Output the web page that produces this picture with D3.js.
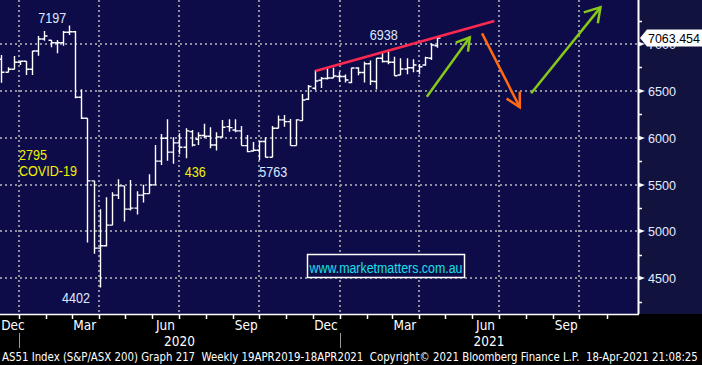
<!DOCTYPE html>
<meta charset="utf-8">
<style>
body { margin: 0; background: #000; }
svg { display: block; }
.grid line { stroke: #8e8e9c; stroke-width: 2; stroke-dasharray: 2,3; }
.bar { stroke: #fff; stroke-width: 1.4; fill: none; }
.lbl { font-family: "Liberation Sans", Arial, sans-serif; font-size: 14px; }
.ax { font-family: "Liberation Sans", Arial, sans-serif; font-size: 13px; fill: #e4ecff; }
.narrow { font-family: "Liberation Sans Narrow", "DejaVu Sans Condensed", sans-serif; fill: #fff; white-space: pre; }
</style>
<svg width="702" height="365"></svg>
<script src="https://d3js.org/d3.v7.min.js"></script>
<script>

// weekly AS51 bars, week ending Friday, first week 6 Dec 2019
var firstWeek = new Date(2019, 11, 6);
var open  = [6837,6698,6730,6805,6816,6730,6925,7053,7040,7014,7014,7125,7131,6432,6208,5540,
             4822,4847,5067,5387,5486,5238,5249,5387,5404,5497,5750,5995,5846,5945,5899,6065,
             5984,6023,6016,5923,6008,6118,6083,6073,5916,5859,5867,5959,5792,6101,6190,6172,
             5916,6182,6410,6528,6613,6632,6638,6654,6654,6590,6744,6696,6789,6600,6848,6813,
             6805,6670,6733,6747,6712,6776,6848,6982];
var high  = [6883,6752,6872,6822,6816,6925,7085,7139,7043,7043,7139,7197,7139,6517,6208,5540,
             5238,5366,5419,5558,5486,5550,5430,5497,5611,5923,6040,6197,6005,6048,6101,6083,
             6059,6150,6112,6059,6190,6197,6197,6126,6030,5955,5969,6005,6126,6236,6243,6200,
             6197,6467,6563,6723,6648,6750,6747,6705,6675,6747,6753,6811,6824,6851,6904,6938,
             6865,6848,6848,6837,6787,6865,7007,7067];
var low   = [6587,6698,6730,6776,6670,6670,6875,7035,6965,6901,6982,7096,6420,6200,4882,4761,
             4402,4840,5067,5345,5106,5223,5180,5308,5404,5497,5710,5753,5721,5824,5782,5905,
             5923,5995,5888,5863,6001,6065,6059,5916,5846,5852,5763,5792,5792,6101,6118,5916,
             5916,6182,6403,6510,6531,6622,6638,6595,6590,6581,6666,6590,6563,6515,6803,6784,
             6662,6670,6677,6698,6677,6769,6829,6961];
var close = [6698,6730,6805,6816,6730,6925,7053,7085,7014,7014,7125,7131,6432,6208,5540,4822,
             4847,5067,5387,5486,5238,5249,5387,5404,5497,5750,5995,5846,5945,5899,6073,5923,
             6023,6016,5923,6008,6112,6108,6073,5916,5852,5867,5959,5792,6101,6190,6172,5916,
             6190,6403,6547,6606,6632,6638,6659,6654,6616,6744,6696,6789,6602,6848,6813,6805,
             6662,6733,6747,6776,6758,6854,6989,7063.454];

var yTicks = [4500, 5000, 5500, 6000, 6500, 7000];
var lastPrice = 7063.454;

// text callouts: [date, value, text, colour]
var callouts = [
  [new Date(2020, 0, 23), 7219, "7197", "#dde8ff"],
  [new Date(2020, 1, 19), 4234, "4402", "#dde8ff"],
  [new Date(2020, 6, 8),  5577, "436",  "#f2f200"],
  [new Date(2020, 9, 1),  5577, "5763", "#dde8ff"],
  [new Date(2021, 1, 4),  7043, "6938", "#dde8ff"]
];
var covidText = ["2795", "COVID-19"];

// hand drawn trend line and arrows (date, value)
var trendLine = [[new Date(2020, 11, 4), 6712], [new Date(2021, 5, 26), 7245]];
var arrows = [
  {c: "#86c817", line: [[new Date(2021, 3, 10), 6438], [new Date(2021, 4, 29), 7071]],
   head: [[new Date(2021, 4, 13), 7014], [new Date(2021, 4, 29), 7071], [new Date(2021, 4, 27), 6918]]},
  {c: "#ff6a12", line: [[new Date(2021, 5, 12), 7114], [new Date(2021, 6, 25), 6325]],
   head: [[new Date(2021, 6, 10), 6417], [new Date(2021, 6, 25), 6325], [new Date(2021, 6, 25), 6492]]},
  {c: "#86c817", line: [[new Date(2021, 7, 7), 6474], [new Date(2021, 9, 25), 7391]],
   head: [[new Date(2021, 9, 6), 7338], [new Date(2021, 9, 25), 7391], [new Date(2021, 9, 22), 7221]]}
];

var months = ["Dec", "Mar", "Jun", "Sep", "Dec", "Mar", "Jun", "Sep"];
var monthDates = [new Date(2019, 11, 16), new Date(2020, 2, 16), new Date(2020, 5, 16), new Date(2020, 8, 16),
                  new Date(2020, 11, 16), new Date(2021, 2, 16), new Date(2021, 5, 16), new Date(2021, 8, 16)];
var years = ["2020", "2021"];
var footer = "AS51 Index (S&P/ASX 200) Graph 217  Weekly 19APR2019-18APR2021  Copyright\u00a9 2021 Bloomberg Finance L.P.  18-Apr-2021 21:08:25";

var svg = d3.select("svg"),
    W = 638, H = 314;

var x = d3.scaleTime()
    .domain([new Date(2020, 0, 1), new Date(2021, 0, 1)])
    .range([19, 19 + 366 * 0.877]);
var y = d3.scaleLinear().domain([4500, 7000]).range([278.3, 44]);

var weeks = close.map(function(c, i) { return d3.timeWeek.offset(firstWeek, i); });
var bx = function(i) { return Math.round(x(d3.timeDay.offset(weeks[i], 6))) + 0.5; };

svg.append("rect").attr("width", 702).attr("height", 365).attr("fill", "#000");
svg.append("rect").attr("width", W).attr("height", H).attr("fill", "#0e0c48");
svg.append("rect").attr("x", W).attr("width", 702 - W).attr("height", H).attr("fill", "#12123f");

svg.append("clipPath").attr("id", "plot").append("rect").attr("width", W).attr("height", H);
var plot = svg.append("g").attr("clip-path", "url(#plot)");

// grid
var grid = plot.append("g").attr("class", "grid");
grid.selectAll(".h").data(yTicks).enter().append("line")
    .attr("x1", 0).attr("x2", W)
    .attr("y1", function(d) { return Math.round(y(d)); })
    .attr("y2", function(d) { return Math.round(y(d)); });
grid.selectAll(".v").data(d3.timeMonth.every(3).range(new Date(2020, 0, 1), new Date(2021, 11, 1))).enter().append("line")
    .attr("y1", 0).attr("y2", H)
    .attr("x1", function(d) { return Math.round(x(d)); })
    .attr("x2", function(d) { return Math.round(x(d)); });

// website box
var wb = plot.append("g");
wb.append("rect").attr("x", 307.5).attr("y", 254.5).attr("width", 157).attr("height", 23)
    .attr("fill", "#0e0c48").attr("stroke", "#fff").attr("stroke-width", 1.5);
wb.append("text").attr("x", 386).attr("y", 273).attr("text-anchor", "middle")
    .attr("class", "lbl").attr("font-size", 13.5).attr("fill", "#18e0e8")
    .attr("textLength", 153).attr("lengthAdjust", "spacingAndGlyphs")
    .text("www.marketmatters.com.au");

// OHLC bars
var bars = plot.append("g").attr("class", "bar");
close.forEach(function(c, i) {
  var cx = bx(i);
  bars.append("path").attr("d",
    "M" + cx + "," + y(high[i]) + "V" + y(low[i]) +
    "M" + (cx - 3) + "," + y(open[i]) + "H" + cx +
    "M" + cx + "," + y(c) + "H" + (cx + 3));
});

// trend line & arrows
var ln = d3.line().x(function(d) { return x(d[0]); }).y(function(d) { return y(d[1]); });
plot.append("path").attr("d", ln(trendLine)).attr("stroke", "#ff2850")
    .attr("stroke-width", 2.5).attr("fill", "none");
arrows.forEach(function(a) {
  plot.append("path").attr("d", ln(a.line)).attr("stroke", a.c).attr("stroke-width", 2.5).attr("fill", "none");
  plot.append("path").attr("d", ln(a.head)).attr("stroke", a.c).attr("stroke-width", 2.5)
      .attr("fill", "none").attr("stroke-linejoin", "miter");
});

// callouts
callouts.forEach(function(c) {
  plot.append("text").attr("class", "lbl").attr("x", x(c[0])).attr("y", y(c[1]))
      .attr("fill", c[3]).attr("textLength", c[2].length * 7)
      .attr("lengthAdjust", "spacingAndGlyphs").text(c[2]);
});
plot.append("text").attr("class", "lbl").attr("x", 19).attr("y", 159.5).attr("fill", "#f2f200")
    .attr("textLength", 28).attr("lengthAdjust", "spacingAndGlyphs").text(covidText[0]);
plot.append("text").attr("class", "lbl").attr("x", 19).attr("y", 175.5).attr("fill", "#f2f200")
    .attr("textLength", 58).attr("lengthAdjust", "spacingAndGlyphs").text(covidText[1]);

// right axis
var ra = svg.append("g");
ra.append("line").attr("x1", W + 0.5).attr("x2", W + 0.5).attr("y1", 0).attr("y2", H)
    .attr("stroke", "#fff").attr("stroke-width", 2);
ra.selectAll(".mt").data(d3.range(4250, 7500, 250)).enter().append("line")
    .attr("x1", W).attr("x2", W + 4)
    .attr("y1", function(d) { return Math.round(y(d)) + 0.5; })
    .attr("y2", function(d) { return Math.round(y(d)) + 0.5; })
    .attr("stroke", "#fff").attr("stroke-width", 1.5);
var rt = ra.selectAll(".rt").data(yTicks).enter().append("g")
    .attr("transform", function(d) { return "translate(" + W + "," + Math.round(y(d)) + ")"; });
rt.append("path").attr("d", "M0,-2.5L7,0L0,2.5Z").attr("fill", "#fff");
rt.append("text").attr("class", "ax").attr("x", 10).attr("dy", "0.36em")
    .attr("textLength", 28).attr("lengthAdjust", "spacingAndGlyphs")
    .text(function(d) { return d; });

// last price tag
var tag = svg.append("g").attr("transform", "translate(0," + y(lastPrice) + ")");
tag.append("path").attr("d", "M640,0L647,-8.5H702V8.5H647Z").attr("fill", "#fff");
tag.append("text").attr("class", "ax").attr("x", 648).attr("dy", "0.36em")
    .style("fill", "#000").attr("textLength", 52).attr("lengthAdjust", "spacingAndGlyphs")
    .text(d3.format(".3f")(lastPrice));

// bottom axis
var ba = svg.append("g");
ba.append("line").attr("x1", 0).attr("x2", W + 1).attr("y1", H + 0.5).attr("y2", H + 0.5)
    .attr("stroke", "#fff").attr("stroke-width", 1.5);
ba.selectAll(".tk").data(d3.timeMonth.range(new Date(2019, 11, 1), new Date(2021, 11, 1))).enter().append("line")
    .attr("x1", function(d) { return Math.round(x(d)) + 0.5; })
    .attr("x2", function(d) { return Math.round(x(d)) + 0.5; })
    .attr("y1", H).attr("y2", H + 5).attr("stroke", "#fff").attr("stroke-width", 1.5);
ba.selectAll(".ml").data(months).enter().append("text").attr("class", "narrow")
    .attr("font-size", 13.5).attr("text-anchor", "middle")
    .attr("x", function(d, i) { return Math.max(x(monthDates[i]), 13); })
    .attr("y", 330).text(function(d) { return d; });
[new Date(2020, 0, 1), new Date(2021, 0, 1)].forEach(function(d, i) {
  ba.append("line").attr("x1", Math.round(x(d)) + 0.5).attr("x2", Math.round(x(d)) + 0.5)
      .attr("y1", 333).attr("y2", 348).attr("stroke", "#9a9a9a").attr("stroke-width", 1);
  var x1 = x(d), x2 = i === 0 ? x(new Date(2021, 0, 1)) : W;
  ba.append("text").attr("class", "narrow").attr("font-size", 13.5).attr("text-anchor", "middle")
      .attr("x", (x1 + x2) / 2).attr("y", 346).text(years[i]);
});

// footer, squeezed to the strip width
var ft = svg.append("text").attr("class", "narrow").attr("font-size", 12).text(footer);
var fw = ft.node().getComputedTextLength();
ft.attr("transform", "translate(2,361) scale(" + (697 / fw) + ",1)");

</script>
